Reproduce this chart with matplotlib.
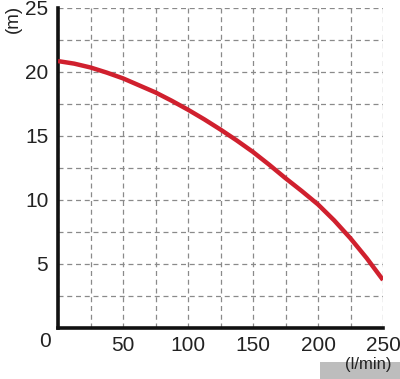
import matplotlib.pyplot as plt
from matplotlib.patches import Rectangle

flow = [0, 12.5, 25, 37.5, 50, 62.5, 75, 87.5, 100, 112.5, 125, 137.5,
        150, 162.5, 175, 187.5, 200, 212.5, 225, 237.5, 250]
head = [20.85, 20.65, 20.35, 19.95, 19.5, 18.95, 18.4, 17.75, 17.05, 16.3, 15.5, 14.65,
        13.75, 12.75, 11.7, 10.7, 9.65, 8.4, 7.0, 5.45, 3.75]
xticks = [50, 100, 150, 200, 250]
yticks = [5, 10, 15, 20, 25]

plt.rcParams['font.family'] = ['Liberation Sans', 'DejaVu Sans']

fig = plt.figure(figsize=(4, 3.79), dpi=100)
ax = fig.add_axes([0.145, 0.1346, 0.8125, 0.8444])

ax.plot(flow, head, color="#d0202e", linewidth=3.2, solid_capstyle="butt",
        solid_joinstyle="round", zorder=3)

ax.set_xlim(0, 250)
ax.set_ylim(0, 25)
ax.set_xticks(xticks)
ax.set_yticks(yticks)
ax.set_xticks([25 * i for i in range(11)], minor=True)
ax.set_yticks([2.5 * i for i in range(11)], minor=True)
ax.grid(which="both", color="#8a8a8a", linestyle=(0, (4, 3)), linewidth=0.9)
ax.tick_params(which="both", length=0, labelsize=15, colors="#222222")
ax.tick_params(axis="y", pad=7)
ax.tick_params(axis="x", pad=6)

for s in ["top", "right"]:
    ax.spines[s].set_visible(False)
for s in ["left", "bottom"]:
    ax.spines[s].set_linewidth(2.6)
    ax.spines[s].set_color("#111111")

fig.patches.append(Rectangle((0.8, 0.0), 0.2, 0.045, transform=fig.transFigure,
                             facecolor="#bdbdbd", edgecolor="none", zorder=1))
fig.text(0.1125, 0.1, "0", fontsize=15, color="#222222", ha="center", va="center")
fig.text(0.0325, 0.95, "(m)", fontsize=13.5, color="#222222", rotation=90, ha="center", va="center")
fig.text(0.92, 0.038, "(l/min)", fontsize=12, color="#222222", ha="center", va="center", zorder=5)

plt.savefig("out.png", dpi=100)
